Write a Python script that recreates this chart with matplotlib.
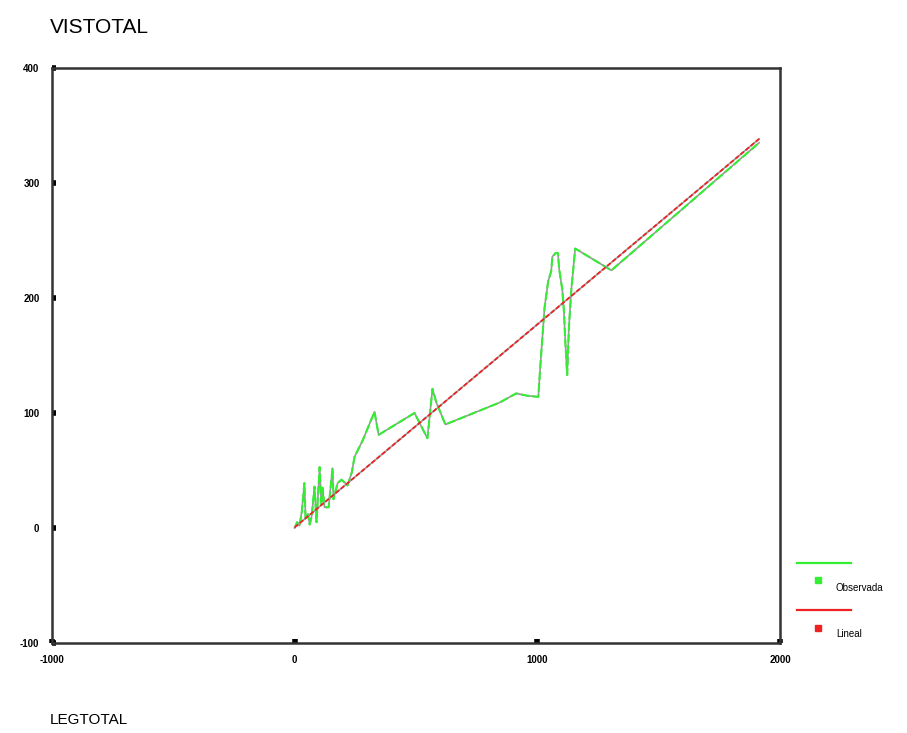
import numpy as np
import matplotlib
matplotlib.use("Agg")
import matplotlib.pyplot as plt
from matplotlib.lines import Line2D

plt.rcParams.update({"font.family": "Liberation Sans",
                     "axes.unicode_minus": False})

# observed points (LEGTOTAL vs VISTOTAL), sorted by x
legtotal = [0, 10, 20, 30, 40, 45, 55, 62, 70, 82, 90, 103, 110, 115, 123,
            140, 156, 160, 177, 193, 218, 235, 247, 280, 329, 346, 494, 547,
            568, 584, 621, 844, 913, 959, 1004, 1012, 1030, 1045, 1057, 1062,
            1075, 1085, 1090, 1103, 1110, 1115, 1123, 1130, 1140, 1156, 1305,
            1914]
vistotal = [0, 5, 2, 15, 39, 8, 12, 3, 10, 36, 5, 53, 20, 35, 18,
            18, 52, 25, 39, 42, 37, 48, 62, 76, 101, 81, 100, 78,
            121, 109, 90, 109, 117, 115, 114, 140, 192, 215, 223, 236,
            239, 239, 225, 207, 187, 163, 133, 174, 207, 243, 224,
            335]
# linear fit
b0, b1 = 0.5, 0.1765

x = np.array(legtotal, dtype=float)
y = np.array(vistotal, dtype=float)
fit = b0 + b1 * x

fig = plt.figure(figsize=(9.07, 7.33), dpi=100)
ax = fig.add_axes([0.0573, 0.1228, 0.8027, 0.7845])

ax.plot(x, y, color="#999999", lw=1.2, zorder=2)
ax.plot(x, y, color="#33ee33", lw=1.5, dashes=(4, 1.5), zorder=3)
ax.plot(x, fit, color="#999999", lw=1.2, zorder=4)
ax.plot(x, fit, color="#ee2222", lw=1.3, dashes=(2.5, 1.2), zorder=5)

ax.set_xlim(-1000, 2000)
ax.set_ylim(-100, 400)
ax.set_xticks([-1000, 0, 1000, 2000])
ax.set_yticks([-100, 0, 100, 200, 300, 400])
for s in ax.spines.values():
    s.set_color("#333333")
    s.set_linewidth(1.8)
ax.tick_params(direction="in", length=3, width=4, color="black",
               labelsize=7, pad=9)
for lab in ax.get_xticklabels() + ax.get_yticklabels():
    lab.set_fontweight("bold")

fig.text(0.055, 0.962, "VISTOTAL", fontsize=15, va="center", ha="left")
fig.text(0.055, 0.018, "LEGTOTAL", fontsize=11, va="center", ha="left")

# legend drawn in figure coordinates
W, H = 907, 733
def fx(px): return px / W
def fy(py): return 1 - py / H
fig.add_artist(Line2D([fx(797), fx(851)], [fy(563), fy(563)],
                      color="#33ee33", lw=1.6))
fig.add_artist(Line2D([fx(818)], [fy(580)], marker="s", ms=4,
                      color="#33ee33", lw=0))
fig.text(fx(836), fy(588), "Observada", fontsize=7, va="center")
fig.add_artist(Line2D([fx(797), fx(851)], [fy(610), fy(610)],
                      color="#ee2222", lw=1.6))
fig.add_artist(Line2D([fx(818)], [fy(628)], marker="s", ms=4,
                      color="#ee2222", lw=0))
fig.text(fx(836), fy(634), "Lineal", fontsize=7, va="center")

fig.savefig("out.png", dpi=100, facecolor="white")
